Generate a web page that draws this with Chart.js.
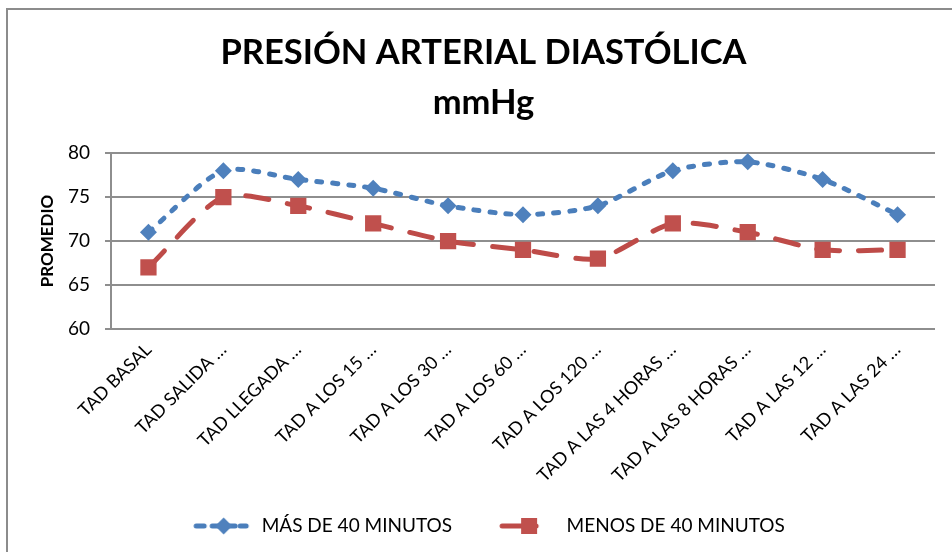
<!DOCTYPE html>
<html>
<head>
<meta charset="utf-8">
<script src="https://cdn.jsdelivr.net/npm/chart.js@4.4.1/dist/chart.umd.min.js"></script>
<style>
  html, body { margin: 0; padding: 0; background: #fff; overflow: hidden; }
  #wrap { position: relative; width: 952px; height: 552px; }
  #frame { position: absolute; left: 6px; top: 8px; width: 1000px; height: 1000px; border: 2px solid #8c8c8c; box-sizing: border-box; }
  canvas { position: absolute; left: 0; top: 0; }
</style>
</head>
<body>
<div id="wrap">
  <div id="frame"></div>
  <canvas id="chart" width="952" height="552"></canvas>
</div>
<script>
/* Presión arterial diastólica, mmHg */
const FONT = 'Lato, "Open Sans", sans-serif';
const BLUE = '#4a7ebb';
const RED = '#be4b48';
const GRID = '#8e8e8e';

const categories = [
    'TAD BASAL', 'TAD SALIDA …', 'TAD LLEGADA …', 'TAD A LOS 15 …', 'TAD A LOS 30 …',
    'TAD A LOS 60 …', 'TAD A LOS 120 …', 'TAD A LAS 4 HORAS …', 'TAD A LAS 8 HORAS …',
    'TAD A LAS 12 …', 'TAD A LAS 24 …'
];
const seriesNames = ['MÁS DE 40 MINUTOS', 'MENOS DE 40 MINUTOS'];
const masDe40 = [71, 78, 77, 76, 74, 73, 74, 78, 79, 77, 73];
const menosDe40 = [67, 75, 74, 72, 70, 69, 68, 72, 71, 69, 69];
const yTicks = [60, 65, 70, 75, 80];

// legend swatches: line + marker, like the spreadsheet legend
function swatch(kind) {
    const c = document.createElement('canvas');
    c.width = 70; c.height = 24;
    const g = c.getContext('2d');
    g.lineCap = 'round';
    g.lineWidth = 5;
    if (kind === 'blue') {
        g.strokeStyle = BLUE;
        g.beginPath(); g.moveTo(14, 12); g.lineTo(22, 12); g.stroke();
        g.beginPath(); g.moveTo(58, 12); g.lineTo(64, 12); g.stroke();
        g.beginPath(); g.moveTo(30, 12); g.lineTo(53, 12); g.stroke();
        g.fillStyle = '#4f81bd';
        g.beginPath();
        g.moveTo(41.5, 3.5); g.lineTo(50, 12); g.lineTo(41.5, 20.5); g.lineTo(33, 12);
        g.closePath(); g.fill();
    } else {
        g.strokeStyle = RED;
        g.beginPath(); g.moveTo(15, 12); g.lineTo(49, 12); g.stroke();
        g.fillStyle = '#c0504d';
        g.fillRect(34, 4, 16, 16);
    }
    return c;
}
const legendIcons = [swatch('blue'), swatch('red')];

const ctx = document.getElementById('chart').getContext('2d');
new Chart(ctx, {
    type: 'line',
    data: {
        labels: categories,
        datasets: [{
            label: seriesNames[0],
            data: masDe40,
            borderColor: BLUE,
            backgroundColor: '#4f81bd',
            borderWidth: 5,
            borderDash: [5, 11],
            borderCapStyle: 'round',
            tension: 0.25,
            pointStyle: 'rectRot',
            pointRadius: 8.5,
            pointBorderWidth: 0,
            pointBackgroundColor: '#4f81bd'
        }, {
            label: seriesNames[1],
            data: menosDe40,
            borderColor: RED,
            backgroundColor: '#c0504d',
            borderWidth: 5,
            borderDash: [23, 19],
            borderCapStyle: 'round',
            tension: 0.25,
            pointStyle: 'rect',
            pointRadius: 11.5,
            pointBorderWidth: 0,
            pointBackgroundColor: '#c0504d'
        }]
    },
    options: {
        responsive: false,
        animation: false,
        events: [],
        layout: { padding: { left: 32, right: 17, top: 10, bottom: 6.5 } },
        scales: {
            x: {
                offset: true,
                grid: { display: false },
                border: { display: false },
                ticks: {
                    color: '#000',
                    font: { family: FONT, size: 18 },
                    minRotation: 45,
                    maxRotation: 45,
                    autoSkip: false,
                    padding: 2
                },
                afterFit: (scale) => { scale.height = 152.5; }
            },
            y: {
                min: 60,
                max: 80,
                afterBuildTicks: (scale) => { scale.ticks = yTicks.map(v => ({ value: v })); },
                grid: { color: GRID, lineWidth: 2, tickLength: 6 },
                border: { color: GRID, width: 2 },
                ticks: {
                    color: '#000',
                    font: { family: FONT, size: 19 },
                    padding: 15
                },
                title: {
                    display: true,
                    text: 'PROMEDIO',
                    color: '#000',
                    font: { family: FONT, size: 17, weight: 'bold' },
                    padding: { top: 5, bottom: 0 }
                },
                afterFit: (scale) => { scale.width = 79; }
            }
        },
        plugins: {
            title: {
                display: true,
                text: ['PRESIÓN ARTERIAL DIASTÓLICA', 'mmHg'],
                color: '#000',
                font: { family: FONT, size: 34.5, weight: 'bold', lineHeight: 1.45 },
                padding: { top: 18, bottom: 25 }
            },
            legend: {
                position: 'bottom',
                labels: {
                    usePointStyle: true,
                    pointStyleWidth: 70,
                    padding: 35,
                    color: '#000',
                    font: { family: FONT, size: 19 },
                    generateLabels: (chart) =>
                        Chart.defaults.plugins.legend.labels.generateLabels(chart)
                            .map((item, i) => Object.assign(item, { pointStyle: legendIcons[i] }))
                }
            },
            tooltip: { enabled: false }
        }
    }
});
</script>
</body>
</html>
